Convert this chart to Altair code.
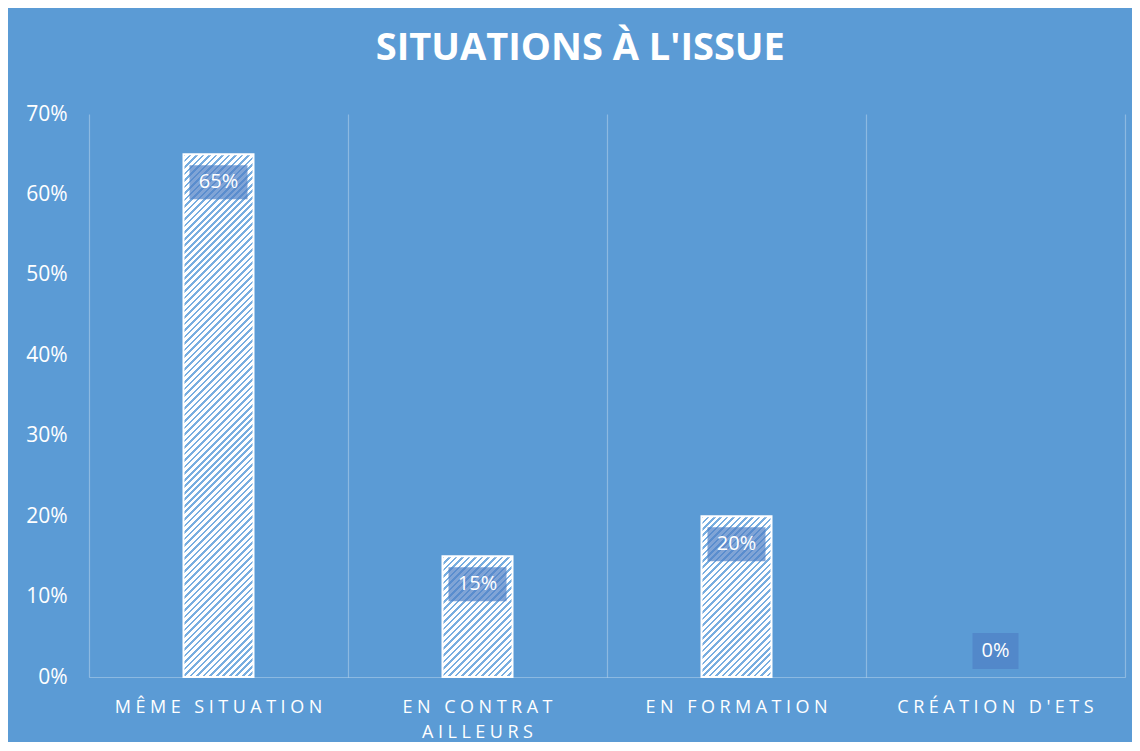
import json
import altair as alt
import pandas as pd

# ---- data ----
categories = ["MÊME SITUATION", "EN CONTRAT AILLEURS", "EN FORMATION", "CRÉATION D'ETS"]
values = [0.65, 0.15, 0.20, 0.0]
label_lines = {
    "MÊME SITUATION": ["MÊME SITUATION"],
    "EN CONTRAT AILLEURS": ["EN CONTRAT", "AILLEURS"],
    "EN FORMATION": ["EN FORMATION"],
    "CRÉATION D'ETS": ["CRÉATION D'ETS"],
}
y_ticks = [0, 0.1, 0.2, 0.3, 0.4, 0.5, 0.6, 0.7]
title_text = "SITUATIONS À L'ISSUE"

# ---- layout / style ----
W, H = 1036, 563
YMAX = 0.7
BAR_W = 70
BG = "#5B9BD5"
FONT = "Open Sans"
TS = "\u2005"  # narrow space used as letter spacing on the category labels

df = pd.DataFrame({"cat": categories, "value": values})


def spaced(s):
    return TS.join(s)


expr = "''"
for c in reversed(categories):
    lines = [spaced(l) for l in label_lines[c]]
    expr = f"datum.value == {json.dumps(c, ensure_ascii=False)} ? {json.dumps(lines, ensure_ascii=False)} : ({expr})"

x_scale = alt.Scale(domain=categories, paddingInner=0, paddingOuter=0)
y_scale = alt.Scale(domain=[0, YMAX], nice=False, zero=True)

x_axis = alt.Axis(
    title=None, grid=True, bandPosition=0, gridColor="#FFFFFF", gridOpacity=0.3,
    gridWidth=1.2, domainColor="#FFFFFF", domainOpacity=0.3, domainWidth=1.2,
    ticks=False, labelAngle=0, labelColor="white", labelFont=FONT,
    labelFontSize=18, labelPadding=21, labelLineHeight=25, labelLimit=300,
    labelExpr=expr,
)
y_axis_left = alt.Axis(
    title=None, values=y_ticks, format=".0%", grid=False, ticks=False, domain=False,
    labelColor="white", labelFont=FONT, labelFontSize=21, labelPadding=22,
)
y_axis_right = alt.Axis(
    title=None, orient="right", labels=False, ticks=False, grid=False, domain=True,
    domainColor="#FFFFFF", domainOpacity=0.3, domainWidth=1.2,
)

X = alt.X("cat:N", scale=x_scale, axis=x_axis, sort=categories)


def hatch(value, period=6.5, frac=0.4, stripe="#78AEE0"):
    h = value / YMAX * H
    w = BAR_W
    n = max(1, int(round((w + h) / period)))
    k2 = w * w + h * h
    x2 = w * (w + h) / k2
    y2 = h * (w + h) / k2
    stops = []
    for k in range(n):
        o0 = k / n
        o1 = (k + frac) / n
        o2 = (k + 1) / n
        stops += [
            alt.GradientStop(color=stripe, offset=o0),
            alt.GradientStop(color=stripe, offset=o1),
            alt.GradientStop(color="#FFFFFF", offset=o1),
            alt.GradientStop(color="#FFFFFF", offset=o2),
        ]
    return alt.LinearGradient(gradient="linear", stops=stops, x1=0, y1=0, x2=x2, y2=y2)


base = alt.Chart(df).transform_calculate(
    label="format(datum.value, '.0%')",
    boxw="length(format(datum.value, '.0%')) * 12 + 22",
)

layers = []
first = True
for c, v in zip(categories, values):
    if v <= 0:
        continue
    layers.append(
        base.transform_filter(alt.datum.cat == c)
        .mark_bar(width=BAR_W, fill=hatch(v), stroke="white", strokeWidth=2)
        .encode(
            x=X,
            y=alt.Y("value:Q", scale=y_scale, axis=y_axis_left if first else None, stack=None),
        )
    )
    first = False

boxes_pos = base.transform_filter("datum.value > 0").mark_bar(
    fill="#4F81C6", opacity=0.72, yOffset=11, y2Offset=45
).encode(
    x=X,
    y=alt.Y("value:Q", scale=y_scale, axis=y_axis_right),
    y2="value:Q",
    size=alt.Size("boxw:Q", scale=None, legend=None),
)
boxes_zero = base.transform_filter("datum.value <= 0").mark_bar(
    fill="#4F81C6", opacity=0.72, yOffset=-44, y2Offset=-8
).encode(
    x=X,
    y=alt.Y("value:Q", scale=y_scale, axis=None),
    y2="value:Q",
    size=alt.Size("boxw:Q", scale=None, legend=None),
)
text_pos = base.transform_filter("datum.value > 0").mark_text(
    color="white", font=FONT, fontSize=20, baseline="middle", yOffset=28
).encode(
    x=X,
    y=alt.Y("value:Q", scale=y_scale, axis=None),
    text="label:N",
)
text_zero = base.transform_filter("datum.value <= 0").mark_text(
    color="white", font=FONT, fontSize=20, baseline="middle", yOffset=-26
).encode(
    x=X,
    y=alt.Y("value:Q", scale=y_scale, axis=None),
    text="label:N",
)

chart = alt.layer(*layers, boxes_pos, boxes_zero, text_pos, text_zero).resolve_axis(
    y="independent"
).properties(
    width=W,
    height=H,
    title=alt.TitleParams(
        text=title_text, font=FONT, fontSize=38, fontWeight="bold", color="white",
        anchor="middle", frame="bounds", dx=5, offset=35,
    ),
    background=BG,
    padding={"left": 81, "top": 106, "right": 7, "bottom": 65},
    autosize=alt.AutoSizeParams(type="none"),
).configure_view(stroke=None)

chart.save("out.html", embed_options={"renderer": "svg", "actions": False})
